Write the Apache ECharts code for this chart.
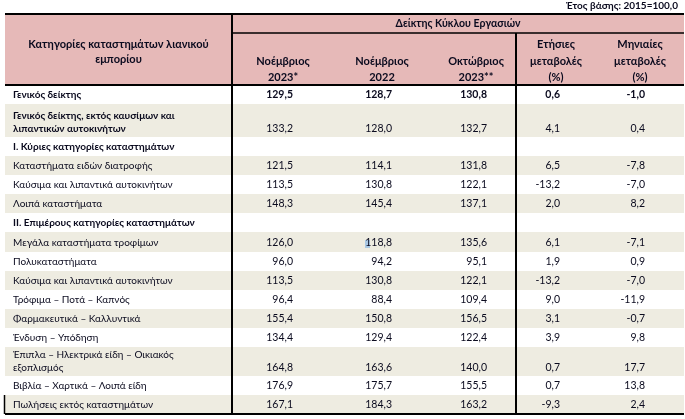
<!DOCTYPE html>
<html><head><meta charset="utf-8">
<script src="https://cdn.jsdelivr.net/npm/echarts@6/dist/echarts.min.js"></script>
<style>html,body{margin:0;padding:0;background:#fff}#c{width:685px;height:419px}</style>
</head><body><div id="c"></div>
<script>
// ---- data ----
const baseNote = 'Έτος βάσης: 2015=100,0';
const groupHeader = 'Δείκτης Κύκλου Εργασιών';
const categoryHeader = ['Κατηγορίες καταστημάτων λιανικού', 'εμπορίου'];
const columnHeaders = [
  ['Νοέμβριος', '2023*'],
  ['Νοέμβριος', '2022'],
  ['Οκτώβριος', '2023**'],
  ['Ετήσιες', 'μεταβολές', '(%)'],
  ['Μηνιαίες', 'μεταβολές', '(%)']
];
const rowLabels = [
  ['Γενικός δείκτης'],
  ['Γενικός δείκτης, εκτός καυσίμων και', 'λιπαντικών αυτοκινήτων'],
  ['Ι. Κύριες κατηγορίες καταστημάτων'],
  ['Καταστήματα ειδών διατροφής'],
  ['Καύσιμα και λιπαντικά αυτοκινήτων'],
  ['Λοιπά καταστήματα'],
  ['ΙΙ. Επιμέρους κατηγορίες καταστημάτων'],
  ['Μεγάλα καταστήματα τροφίμων'],
  ['Πολυκαταστήματα'],
  ['Καύσιμα και λιπαντικά αυτοκινήτων'],
  ['Τρόφιμα – Ποτά – Καπνός'],
  ['Φαρμακευτικά – Καλλυντικά'],
  ['Ένδυση – Υπόδηση'],
  ['Έπιπλα – Ηλεκτρικά είδη – Οικιακός', 'εξοπλισμός'],
  ['Βιβλία – Χαρτικά – Λοιπά είδη'],
  ['Πωλήσεις εκτός καταστημάτων']
];
const boldLabel = [true, true, true, false, false, false, true, false, false, false, false, false, false, false, false, false];
const boldValues = [true, false, false, false, false, false, false, false, false, false, false, false, false, false, false, false];
const nov2023 = [129.5, 133.2, null, 121.5, 113.5, 148.3, null, 126.0, 96.0, 113.5, 96.4, 155.4, 134.4, 164.8, 176.9, 167.1];
const nov2022 = [128.7, 128.0, null, 114.1, 130.8, 145.4, null, 118.8, 94.2, 130.8, 88.4, 150.8, 129.4, 163.6, 175.7, 184.3];
const oct2023 = [130.8, 132.7, null, 131.8, 122.1, 137.1, null, 135.6, 95.1, 122.1, 109.4, 156.5, 122.4, 140.0, 155.5, 163.2];
const annualChange = [0.6, 4.1, null, 6.5, -13.2, 2.0, null, 6.1, 1.9, -13.2, 9.0, 3.1, 3.9, 0.7, 0.7, -9.3];
const monthlyChange = [-1.0, 0.4, null, -7.8, -7.0, 8.2, null, -7.1, 0.9, -7.0, -11.9, -0.7, 9.8, 17.7, 13.8, 2.4];

// ---- layout (in chart units = pixels of the hidden axes) ----
const FONT = 'Lato';
const TXT = '#0a0a1e';
const PINK = '#e6b9b8';
const SHADE = '#eeece1';
const L = { left: 5, right: 684, top: 14, sub: 33, headBottom: 85, divider1: 232, divider2: 516 };
const rowBounds = [85, 104, 137, 156, 175, 194, 213, 232, 252, 271, 290, 309, 328, 347, 376, 395, 414];
const valueRight = [293, 392, 487, 560, 645];
const headCenter = [283, 382, 476, 556, 640];
const valueCols = [nov2023, nov2022, oct2023, annualChange, monthlyChange];

function fmt(v) { return v == null ? '' : v.toFixed(1).replace('.', ','); }

function renderTable(params, api) {
  const P = (x, y) => api.coord([x, y]);
  const ch = [];
  const rect = (x0, y0, x1, y1, fill) => {
    const a = P(x0, y0), b = P(x1, y1);
    ch.push({ type: 'rect', shape: { x: a[0], y: a[1], width: b[0] - a[0], height: b[1] - a[1] }, style: { fill: fill } });
  };
  const line = (x0, y0, x1, y1, w) => {
    const a = P(x0, y0), b = P(x1, y1);
    ch.push({ type: 'line', shape: { x1: a[0], y1: a[1], x2: b[0], y2: b[1] }, style: { stroke: '#000', lineWidth: w } });
  };
  const text = (s, x, y, align, bold, size) => {
    const a = P(x, y);
    ch.push({ type: 'text', x: a[0], y: a[1], style: { text: s, fill: TXT, font: (bold ? 'bold ' : '') + (size || 10) + 'px ' + FONT, textAlign: align, textVerticalAlign: 'middle' } });
  };
  // header bg
  rect(L.left, L.top, L.right, L.headBottom, PINK);
  // row shading
  for (let i = 0; i < rowLabels.length; i++) {
    if (i % 2 === 1) rect(L.left, rowBounds[i], L.right, rowBounds[i + 1], SHADE);
  }
  // selection highlight seen in the source image (on the first digit of 118,8)
  rect(365, 240, 370, 248, '#a9c8e4');
  // note & headers
  text(baseNote, 678, 6, 'right', true, 10);
  text(groupHeader, (L.divider1 + L.right) / 2, 24, 'center', true, 10.5);
  text(categoryHeader[0], (L.left + L.divider1) / 2, 44, 'center', true, 11);
  text(categoryHeader[1], (L.left + L.divider1) / 2, 59, 'center', true, 11);
  const lineYs3 = [44.5, 61, 77.5];
  columnHeaders.forEach((h, j) => {
    const start = 3 - h.length;
    h.forEach((s, k) => text(s, headCenter[j], lineYs3[start + k], 'center', true, 11));
  });
  // body
  rowLabels.forEach((lab, i) => {
    const top = rowBounds[i], bot = rowBounds[i + 1];
    let ys;
    if (lab.length === 1) ys = [(top + bot) / 2 + 0.5];
    else ys = [bot - 21.5, bot - 8.5];
    lab.forEach((s, k) => text(s, 13, ys[k], 'left', boldLabel[i], 10));
    const vy = ys[ys.length - 1];
    valueCols.forEach((col, j) => {
      if (col[i] != null) text(fmt(col[i]), valueRight[j], vy, 'right', boldValues[i], 10.5);
    });
  });
  // rules
  line(L.left, L.top, L.right, L.top, 2);
  line(L.divider1, L.sub, L.right, L.sub, 1.5);
  line(L.left, L.headBottom, L.right, L.headBottom, 2);
  line(L.left, 414, L.right, 414, 2);
  line(L.divider1, L.top, L.divider1, 414, 2);
  line(L.divider2, L.sub, L.divider2, 414, 2);
  line(L.left - 0.5, rowBounds[15], L.left - 0.5, 414, 1.5);
  return { type: 'group', children: ch };
}

const chart = echarts.init(document.getElementById('c'), null, { renderer: 'canvas' });
chart.setOption({
  animation: false,
  grid: { left: 0, right: 0, top: 0, bottom: 0 },
  xAxis: { type: 'value', min: 0, max: 685, show: false },
  yAxis: { type: 'value', min: 0, max: 419, inverse: true, show: false },
  series: [{ type: 'custom', renderItem: renderTable, data: [[0, 0]], clip: false, silent: true }]
});
</script></body></html>
